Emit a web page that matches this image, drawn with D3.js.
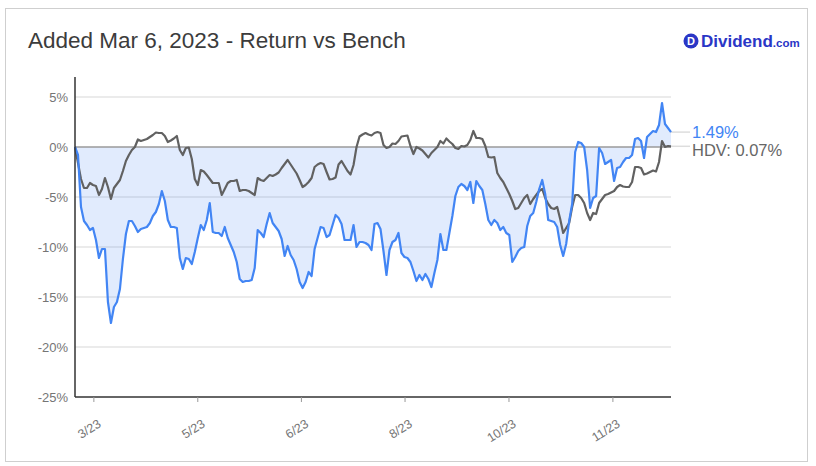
<!DOCTYPE html>
<html>
<head>
<meta charset="utf-8">
<script src="https://cdn.jsdelivr.net/npm/d3@7"></script>
<style>
  html, body { margin: 0; padding: 0; background: #fff; }
  svg { display: block; font-family: "Liberation Sans", Arial, sans-serif; }
</style>
</head>
<body>
<svg id="chart" width="816" height="466"></svg>
<script>
// ---------------- DATA ----------------
const titleText = "Added Mar 6, 2023 - Return vs Bench";
const benchName = "HDV";
// Portfolio return (%) – one value per trading day since Mar 6, 2023
const returnValues = [
  0, -0.8, -6.0, -7.4, -7.8, -8.3, -8.1, -9.3, -11.1, -10.2,
  -10.2, -15.5, -17.6, -16.0, -15.5, -14.2, -11.2, -8.7, -7.4, -7.4,
  -7.9, -8.5, -8.2, -8.1, -8.0, -7.6, -6.9, -6.5, -5.7, -4.4,
  -5.4, -7.3, -8.0, -8.0, -8.1, -11.1, -12.2, -11.1, -11.2, -11.7,
  -10.5, -9.1, -7.8, -8.3, -7.3, -5.6, -8.5, -8.6, -8.6, -8.9,
  -8.0, -9.1, -9.8, -10.5, -11.5, -13.2, -13.5, -13.4, -13.4, -13.3,
  -12.1, -8.3, -8.6, -9.0, -7.7, -6.6, -7.6, -8.0, -8.4, -9.2,
  -10.9, -9.9, -10.8, -11.3, -12.2, -13.5, -14.1, -13.5, -12.5, -12.9,
  -10.2, -9.1, -8.0, -8.1, -9.0, -8.8, -7.8, -6.8, -7.1, -7.7,
  -9.3, -9.3, -9.3, -7.8, -10.0, -9.5, -9.5, -9.6, -9.8, -10.3,
  -7.7, -7.6, -8.2, -10.4, -12.8, -10.3, -9.5, -9.3, -8.6, -10.6,
  -11.0, -11.1, -11.5, -12.4, -13.4, -12.8, -13.3, -12.7, -13.2, -14.0,
  -12.6, -11.3, -8.7, -10.3, -10.3, -8.6, -6.9, -4.9, -4.0, -3.7,
  -3.9, -4.3, -3.5, -5.6, -3.4, -3.9, -4.3, -5.7, -7.3, -7.8,
  -7.3, -7.6, -8.3, -8.0, -8.6, -8.8, -11.5, -11.0, -10.4, -10.1,
  -10.0, -7.9, -6.9, -6.6, -5.5, -4.2, -3.3, -4.7, -7.3, -7.4,
  -7.5, -8.0, -9.8, -10.9, -9.7, -7.4, -5.7, -0.5, 0.5, 0.4,
  0.0, -2.3, -6.1, -5.1, -4.9, -0.1, -0.6, -1.7, -1.5, -1.3,
  -3.4, -2.1, -2.0, -1.5, -1.1, -1.1, -0.8, 0.8, 0.9, 0.6,
  -1.1, 1.0, 1.3, 1.6, 1.5, 2.2, 4.4, 2.3, 1.9, 1.49
];
// Benchmark (HDV) return (%)
const benchValues = [
  0, -1.6, -3.2, -4.1, -4.1, -3.6, -3.8, -3.9, -4.8, -4.2,
  -3.1, -4.0, -5.2, -4.1, -3.7, -3.3, -2.4, -1.4, -0.8, -0.3,
  0.0, 0.75, 0.6, 0.7, 0.8, 1.0, 1.2, 1.45, 1.4, 1.4,
  1.1, 0.5, 0.65, 0.85, 1.1, -0.3, -0.8, -0.1, -0.05, -1.2,
  -3.2, -3.8, -2.3, -2.45, -2.8, -3.2, -3.6, -3.6, -3.6, -4.8,
  -4.2, -3.6, -3.4, -3.4, -3.3, -4.4, -4.3, -4.3, -4.4, -4.6,
  -4.8, -3.1, -3.3, -3.4, -3.1, -2.8, -2.9, -2.75, -2.55, -2.1,
  -1.7, -1.3, -1.75, -2.2, -2.65, -3.3, -4.0, -3.8, -3.5, -3.1,
  -2.0, -1.75, -1.6, -1.7, -2.5, -3.25, -3.2, -3.05, -1.75, -1.4,
  -1.9, -2.4, -2.75, -1.8, 0.0, 1.05, 1.25, 1.4, 1.25, 1.15,
  1.4, 1.5, 1.4, 0.2, -0.1, 0.0, 0.35, 0.3, 0.6, 1.05,
  1.1, 1.15, 0.1, -0.7, 0.0, -0.15, -0.35, -0.7, -1.05, -0.6,
  -0.3, 0.0, 0.6, 0.35, 0.85, 0.55, 0.3, -0.1, -0.2, 0.1,
  0.05, 0.2, 0.7, 1.6, 0.9, 0.9, 0.8, 0.1, -1.0, -1.05,
  -1.0, -2.6, -3.1, -3.5, -4.1, -4.7, -5.4, -6.2, -6.1, -5.6,
  -5.1, -4.8, -5.7, -5.2, -4.8, -4.4, -4.2, -5.1, -5.7, -6.1,
  -6.2, -6.0, -7.2, -8.6, -8.1, -7.6, -6.0, -4.8, -4.8, -5.1,
  -5.6, -6.6, -7.3, -6.6, -6.7, -5.6, -5.2, -4.8, -4.7, -4.55,
  -4.4, -4.0, -3.8, -3.95, -4.0, -4.0, -3.5, -2.0, -2.0, -2.1,
  -2.75, -2.65, -2.5, -2.35, -2.45, -1.5, 0.6, 0.0, 0.1, 0.07
];
// X axis ticks: position (trading-day index) and label
const xTickIndex = [6.3, 41.0, 75.6, 110.2, 144.9, 179.6];
const xTickLabels = ["3/23", "5/23", "6/23", "8/23", "10/23", "11/23"];
// Y axis ticks (%)
const yTicks = [5, 0, -5, -10, -15, -20, -25];
const yDomain = [-25, 7];

// ---------------- CHART ----------------
const svg = d3.select("#chart");
const plot = { left: 75, right: 671, top: 77, bottom: 397 };

const x = d3.scaleLinear().domain([0, returnValues.length - 1]).range([plot.left, plot.right]);
const y = d3.scaleLinear().domain(yDomain).range([plot.bottom, plot.top]);

// outer border
svg.append("rect")
  .attr("x", 5.5).attr("y", 8.5).attr("width", 802).attr("height", 453)
  .attr("fill", "none").attr("stroke", "#cfcfcf").attr("stroke-width", 1);

// title
svg.append("text")
  .attr("x", 28).attr("y", 48)
  .attr("font-size", 22.5).attr("fill", "#3c3c3c")
  .text(titleText);

// logo
const logo = svg.append("g");
logo.append("circle").attr("cx", 691).attr("cy", 41).attr("r", 7.5).attr("fill", "#2a36c6");
logo.append("text").attr("x", 691).attr("y", 45).attr("text-anchor", "middle")
  .attr("font-size", 11).attr("font-weight", "bold").attr("fill", "#fff").text("D");
const lt = logo.append("text").attr("x", 701).attr("y", 47).attr("fill", "#2a36c6").attr("font-weight", "bold");
lt.append("tspan").attr("font-size", 17).text("Dividend");
lt.append("tspan").attr("font-size", 11.5).text(".com");

// gridlines
svg.append("g").selectAll("line").data(yTicks.filter(d => d !== 0 && d !== -25)).join("line")
  .attr("x1", plot.left).attr("x2", plot.right)
  .attr("y1", d => y(d)).attr("y2", d => y(d))
  .attr("stroke", "#e4e4e4").attr("stroke-width", 1.5);

// area between return line and zero
const area = d3.area()
  .x((d, i) => x(i)).y0(y(0)).y1(d => y(d));
svg.append("path").datum(returnValues)
  .attr("d", area).attr("fill", "#4285f4").attr("fill-opacity", 0.16);

// zero line
svg.append("line")
  .attr("x1", plot.left).attr("x2", plot.right)
  .attr("y1", y(0)).attr("y2", y(0))
  .attr("stroke", "#9a9a9a").attr("stroke-width", 1.5);

// end leader lines
const lastR = returnValues[returnValues.length - 1];
const lastB = benchValues[benchValues.length - 1];
svg.append("g").selectAll("line").data([lastR, lastB]).join("line")
  .attr("x1", plot.right).attr("x2", 690)
  .attr("y1", d => y(d)).attr("y2", d => y(d))
  .attr("stroke", "#dddddd").attr("stroke-width", 1.5);

// lines
const line = d3.line().x((d, i) => x(i)).y(d => y(d));
svg.append("path").datum(benchValues)
  .attr("d", line).attr("fill", "none").attr("stroke", "#616161")
  .attr("stroke-width", 2.2).attr("stroke-linejoin", "round");
svg.append("path").datum(returnValues)
  .attr("d", line).attr("fill", "none").attr("stroke", "#4285f4")
  .attr("stroke-width", 2.2).attr("stroke-linejoin", "round");

// y axis labels
svg.append("g").selectAll("text").data(yTicks).join("text")
  .attr("x", 68).attr("y", d => y(d)).attr("dy", "0.35em")
  .attr("text-anchor", "end").attr("font-size", 13).attr("fill", "#757575")
  .text(d => d + "%");

// axis lines
svg.append("line").attr("x1", plot.left).attr("x2", plot.left)
  .attr("y1", plot.top).attr("y2", plot.bottom)
  .attr("stroke", "#333").attr("stroke-width", 1.5);
svg.append("line").attr("x1", plot.left).attr("x2", plot.right)
  .attr("y1", plot.bottom).attr("y2", plot.bottom)
  .attr("stroke", "#333").attr("stroke-width", 1.5);

// x ticks
const xt = svg.append("g").selectAll("g").data(xTickIndex).join("g");
xt.append("line")
  .attr("x1", d => x(d)).attr("x2", d => x(d))
  .attr("y1", plot.bottom).attr("y2", plot.bottom + 5)
  .attr("stroke", "#999").attr("stroke-width", 1);
xt.append("text")
  .attr("transform", d => `translate(${x(d) + 8},${plot.bottom + 29}) rotate(-32)`)
  .attr("text-anchor", "end").attr("font-size", 12.5).attr("fill", "#757575")
  .text((d, i) => xTickLabels[i]);

// end labels
svg.append("text").attr("x", 692).attr("y", y(lastR)).attr("dy", "0.35em")
  .attr("font-size", 16.5).attr("fill", "#4285f4").text(lastR.toFixed(2) + "%");
svg.append("text").attr("x", 692).attr("y", y(lastB) + 4).attr("dy", "0.35em")
  .attr("font-size", 16.5).attr("fill", "#666").text(benchName + ": " + lastB.toFixed(2) + "%");
</script>
</body>
</html>
